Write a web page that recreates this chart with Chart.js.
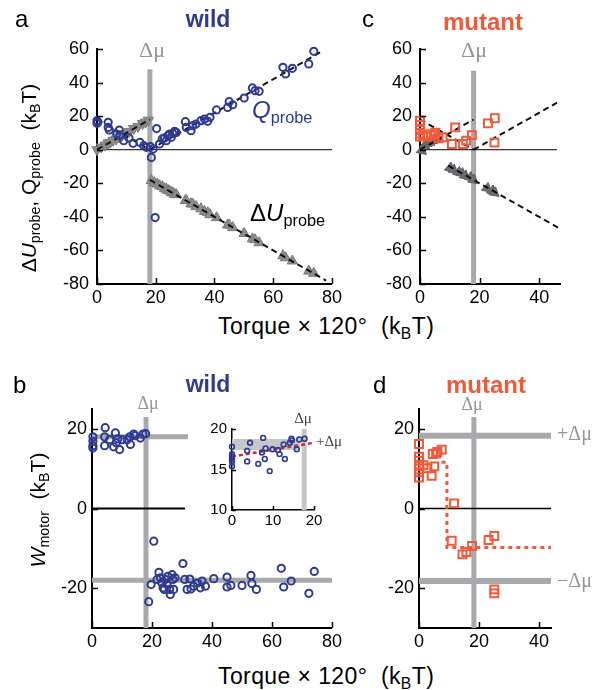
<!DOCTYPE html>
<html>
<head>
<meta charset="utf-8">
<script src="https://cdn.jsdelivr.net/npm/chart.js@4.4.1/dist/chart.umd.min.js"></script>
<style>
  body { margin: 0; background: #fff; width: 606px; height: 690px; position: relative; overflow: hidden;
         font-family: "Liberation Sans", Arial, sans-serif; }
  canvas { position: absolute; }
  .t { position: absolute; white-space: nowrap; line-height: 1; }
  .c { transform: translateX(-50%); }
  .ser { font-family: "Liberation Serif", "DejaVu Serif", serif; }
  .rot { transform: translate(-50%, -50%) rotate(-90deg); }
  sub { font-size: 0.68em; vertical-align: -0.32em; line-height: 0; }
  .blue { color: #2E3A94; }
  .red { color: #F0593A; }
  .gray { color: #939598; }
  .xt { font-size: 23px; letter-spacing: 0.4px; }
</style>
</head>
<body>
<canvas id="chartA" width="345" height="310" style="left:0;top:0"></canvas>
<canvas id="chartC" width="261" height="310" style="left:345px;top:0"></canvas>
<canvas id="chartB" width="345" height="290" style="left:0;top:360px"></canvas>
<canvas id="chartD" width="261" height="290" style="left:345px;top:360px"></canvas>
<canvas id="chartIn" width="140" height="120" style="left:200px;top:410px"></canvas>

<div class="t" style="left:15px;top:7px;font-size:24px">a</div>
<div class="t c blue" style="left:208px;top:8px;font-size:23px;font-weight:bold">wild</div>
<div class="t" style="left:362px;top:7px;font-size:24px">c</div>
<div class="t c red" style="left:483px;top:10px;font-size:24px;font-weight:bold">mutant</div>
<div class="t" style="left:13px;top:373px;font-size:24px">b</div>
<div class="t c blue" style="left:208px;top:373px;font-size:23px;font-weight:bold">wild</div>
<div class="t" style="left:373px;top:373px;font-size:24px">d</div>
<div class="t c red" style="left:486px;top:373px;font-size:24px;font-weight:bold">mutant</div>

<div class="t c ser gray" style="left:152px;top:39px;font-size:22px">Δμ</div>
<div class="t c ser gray" style="left:474px;top:39px;font-size:22px">Δμ</div>
<div class="t c ser gray" style="left:148px;top:394px;font-size:18px">Δμ</div>
<div class="t c ser gray" style="left:472px;top:395px;font-size:18px">Δμ</div>
<div class="t c ser" style="left:303px;top:411px;font-size:15px;color:#444">Δμ</div>
<div class="t ser" style="left:316px;top:434px;font-size:15px;color:#444">+Δμ</div>
<div class="t ser gray" style="left:557px;top:423px;font-size:20px">+Δμ</div>
<div class="t ser gray" style="left:557px;top:570px;font-size:20px">−Δμ</div>

<div class="t blue" style="left:252px;top:98px;font-size:24px"><i>Q</i><sub>probe</sub></div>
<div class="t" style="left:250px;top:201px;font-size:24px">Δ<i>U</i><sub>probe</sub></div>

<div class="t xt" style="left:218px;top:315px">Torque × 120°&nbsp; (k<sub>B</sub>T)</div>
<div class="t xt" style="left:218px;top:665px">Torque × 120°&nbsp; (k<sub>B</sub>T)</div>
<div class="t rot" style="left:28px;top:178px;font-size:21px">Δ<i>U</i><sub>probe</sub>, Q<sub>probe</sub>&nbsp; (k<sub>B</sub>T)</div>
<div class="t rot" style="left:37px;top:510px;font-size:21px"><i>W</i><sub>motor</sub>&nbsp; (k<sub>B</sub>T)</div>

<script>
// Δμ position (kBT)
const DMU = 18;

// ---- panel a (wild): Q_probe circles
const qWildX = [0, 0, 0.3, 3.8, 3.8, 4.2, 6.7, 7.6, 7.8, 9.1, 10.9, 12.3, 14.6, 15.9, 16.8, 18.2, 19.1, 18.5, 20.3, 19.8,
  21.3, 22.2, 23, 23.6, 24.2, 24.7, 25.3, 25.8, 26.4, 27, 30.1, 30.4, 32, 32.6, 33.7, 35.4, 36.6, 37.7, 38.5,
  40.7, 44.5, 45, 46.2, 50.1, 52.9, 53.8, 55.2, 63.3, 64.2, 66.5, 72.1, 73.8];
const qWildY = [17.3, 15.7, 16.5, 16.3, 13.3, 11.8, 9.3, 11.7, 8.4, 5.4, 7, 3.8, 4.4, 2.4, 1.4, 1.8, 0.4, -4.6, 12.6, -40.4,
  3.4, 6.4, 7, 5.4, 8.4, 9.3, 7.4, 9.7, 10.9, 10.3, 16.7, 13.3, 11.3, 14.3, 15.3, 17.3, 18.3, 16.9, 19.3,
  23.7, 25.2, 28.6, 26.8, 30.8, 36.8, 35.2, 34.8, 49.1, 45.1, 48.5, 51.1, 58.6];
// ΔU_probe triangles
const duUpX = [0, 1.5, 2.8, 3.8, 4.5, 5.5, 6.5, 7.5, 8.5, 9.5, 11, 12.5, 14, 15.5, 16.5, 17.5];
const duUpY = [0, 1.6, 2.7, 3.9, 4.4, 5.6, 6.4, 7.6, 8.4, 9.6, 10.9, 12.6, 13.9, 15.6, 16.4, 17.6];
const duLowX = [18.5, 19.5, 20.5, 21.3, 22.2, 23, 23.6, 24.2, 24.7, 25.3, 25.8, 26.4, 27, 30.1, 30.4, 32, 32.6, 33.7,
  35.4, 36.6, 37.7, 38.5, 40.7, 44.5, 45, 46.2, 50.1, 52.9, 53.8, 55.2, 63.3, 64.2, 66.5, 72.1, 73.8];
const duLowY = [-18.3, -19.6, -20.4, -21.5, -22.0, -23.2, -23.5, -24.3, -24.6, -25.5, -25.7, -26.6, -26.8, -30.3, -30.2,
  -32.2, -32.4, -33.9, -35.2, -36.8, -37.5, -38.7, -40.5, -44.8, -44.9, -46.4, -49.9, -53.1, -53.6, -55.4, -63.1,
  -64.4, -66.3, -72.3, -73.6];
// dashed fits, panel a
const fitA = [
  [[0, 18], [18, 0]],
  [[18, 0], [77, 59]],
  [[0, 0], [18, 18]],
  [[18, -18], [78, -78]]
];

// ---- panel c (mutant)
const qMutX = [0, 0, 0, 0, 0, 1.1, 2.5, 3.6, 4.7, 5.1, 6.2, 7.6, 10.7, 11.8, 14.4, 15.5, 17.4, 22.8, 25.1, 25];
const qMutY = [17.3, 14.7, 11.7, 9.7, 7.8, 8.7, 7.8, 9.3, 8.7, 10.1, 6.8, 7.4, 3.4, 13.3, 3.4, 5.4, 8.7, 15.7, 18.7, 4.2];
const duMutX = [0.6, 1.7, 2.5, 3.4, 4.3, 5.1, 5.8, 10.1, 11.2, 12.9, 14, 15.1, 16.8, 17.9, 22.5, 24.2, 25];
const duMutY = [-0.5, 2.8, 4.2, 4.8, 5.8, 6.6, 7.4, -10.9, -12.1, -13.5, -14.1, -15.5, -16.5, -18, -23, -24.5, -25.6];
const fitC = [
  [[0, 18], [18, 0]],
  [[0, 0], [18, 18]],
  [[18, 0], [46, 28]],
  [[9.5, -9.5], [47, -47]]
];

// ---- panel b (wild): W_motor
const wWildLowX = [0.3, 0.3, 0.3, 0.3, 4.4, 4.2, 4.2, 5.9, 7.8, 7.2, 8.1, 8.6, 9.2, 10, 11.7, 12.8, 12.6, 13.9, 14.4, 16.1, 17, 17.9];
const wWildLowY = [18, 16.9, 15.8, 15.2, 20.3, 18, 15.8, 17.3, 19, 15.5, 16.5, 17.5, 14.8, 17.3, 17.3, 16.1, 18, 18.7, 18.3, 17.7, 18.7, 18.8];
const wWildHighX = [20.6, 18.9, 19.7, 22.3, 21.7, 22.8, 23.3, 23.7, 24.1, 24.4, 25, 25.3, 25.9, 26.1, 26.7, 27, 27.2, 27.7,
  30.3, 30.9, 31.7, 32.6, 33, 33.9, 35.2, 36.1, 36.7, 37.8, 40.6, 45, 45, 46.3, 50, 53, 53.3, 54.8, 63.1, 63.9, 66.4, 72.3, 74.1];
const wWildHighY = [-8.2, -23.4, -19.1, -16, -17.8, -17.4, -18.7, -19.9, -20.3, -17.8, -19.1, -17, -20.3, -21.6, -16.6, -17.8,
  -20.3, -17.4, -13.8, -17.8, -20.3, -17.7, -20.2, -19.5, -18.7, -19.9, -18.2, -19.5, -17.6, -17.2, -19.7, -19.3, -19.3,
  -16.8, -18.8, -20.3, -15, -19.7, -18.2, -21.3, -15.8];
// inset of b
const insetX = [0, 0, 0, 0, 0, 0, 4.4, 3.7, 3.7, 6.4, 7.3, 7.6, 8.0, 8.2, 9.2, 9.9, 11.2, 11.6, 12.9, 12.6, 14.1, 14.5, 14.6, 16.4, 17.7, 15.8];
const insetY = [17.8, 16.9, 16.6, 16.3, 16.0, 15.4, 18.3, 17.3, 16.0, 15.7, 17.1, 18.9, 16.3, 17.6, 14.8, 17.5, 17.4, 16.9, 16.3, 18.1, 18.3, 18.8, 18.6, 18.7, 18.8, 17.5];
const insetFit = [[0, 16.6], [20, 18.3]];

// ---- panel d (mutant): W_motor
const wMutX = [0, 0, 0, 0, 0, 0, 1.5, 2.8, 4.2, 4.6, 5.1, 5.7, 6.1, 7.6, 11.7, 10.9, 14.5, 15.8, 17.7, 23.2, 25.1, 25.1, 25.1];
const wMutY = [16.2, 13, 12, 10.6, 9.1, 7.8, 10.9, 10.1, 8.2, 13.7, 10.6, 13.8, 14.2, 14.8, 1.3, -8.1, -11.5, -10.9, -9.4, -7.9, -6.9, -20.3, -21.3];
const wMutFitX = [7.5, 9.3, 9.3, 44];
const wMutFitY = [11.6, 11.6, -9.8, -9.8];

// tick labels
const ticksA_x = [0, 20, 40, 60, 80];
const ticksA_y = [-80, -60, -40, -20, 0, 20, 40, 60];
const ticksC_x = [0, 20, 40];
const ticksB_x = [0, 20, 40, 60, 80];
const ticksB_y = [-20, 0, 20];
const ticksD_x = [0, 20, 40];
const ticksIn_x = [0, 10, 20];
const ticksIn_y = [10, 15, 20];

const BLUE = '#2E3A94', RED = '#F0593A', BAND = '#A7A9AC';

// inward tick marks
const inTicks = {
  id: 'inTicks',
  afterDraw(chart, args, opts) {
    const ctx = chart.ctx, a = chart.chartArea, len = opts.len || 5;
    ctx.save();
    ctx.strokeStyle = '#000';
    ctx.lineWidth = opts.width || 1.5;
    ctx.beginPath();
    chart.scales.x.ticks.forEach(t => {
      const px = Math.round(chart.scales.x.getPixelForValue(t.value)) + 0.5;
      ctx.moveTo(px, a.bottom); ctx.lineTo(px, a.bottom - len);
    });
    chart.scales.y.ticks.forEach(t => {
      const py = Math.round(chart.scales.y.getPixelForValue(t.value)) + 0.5;
      ctx.moveTo(a.left, py); ctx.lineTo(a.left + len, py);
    });
    ctx.stroke();
    ctx.restore();
  }
};

const pts = (xs, ys) => xs.map((x, i) => ({ x: x, y: ys[i] }));
const seg = s => s.map(p => ({ x: p[0], y: p[1] }));

function marks(xs, ys, style) {
  return Object.assign({ data: pts(xs, ys), showLine: false, clip: false, order: 1 }, style);
}
function line(data, color, width, dash, order) {
  return { data: data, showLine: true, pointRadius: 0, borderColor: color, borderWidth: width,
           borderDash: dash || [], fill: false, clip: false, order: order || 2 };
}

function opts(o) {
  const font = { family: '"Liberation Sans", Arial, sans-serif', size: o.fs };
  return {
    responsive: false,
    animation: false,
    events: [],
    layout: { padding: { top: o.top, right: o.right, left: 0, bottom: 0 } },
    plugins: { legend: { display: false }, tooltip: { enabled: false }, inTicks: { len: o.tick } },
    scales: {
      x: {
        type: 'linear', min: o.xmin, max: o.xmax,
        grid: { display: false, drawTicks: false },
        border: { color: '#000', width: o.bw },
        ticks: { color: '#000', font: font, padding: o.xpad, maxRotation: 0 },
        afterBuildTicks: s => { s.ticks = o.xt.map(v => ({ value: v })); },
        afterFit: s => { s.height = o.xh; }
      },
      y: {
        type: 'linear', min: o.ymin, max: o.ymax,
        grid: { display: false, drawTicks: false },
        border: { color: '#000', width: o.bw },
        ticks: { color: '#000', font: font, padding: o.ypad },
        afterBuildTicks: s => { s.ticks = o.yt.map(v => ({ value: v })); },
        afterFit: s => { s.width = o.yw; }
      }
    }
  };
}

const circle = { pointStyle: 'circle', pointRadius: 3.6, borderColor: BLUE, borderWidth: 2, backgroundColor: 'rgba(255,255,255,0)' };
const square = { pointStyle: 'rect', pointRadius: 5.6, borderColor: RED, borderWidth: 2, backgroundColor: 'rgba(255,255,255,0)' };
const triA = r => ({ pointStyle: 'triangle', pointRadius: 6, pointRotation: r, borderColor: '#7A7A7A', borderWidth: 1, backgroundColor: '#8E8E8E' });
const triC = { pointStyle: 'triangle', pointRadius: 6, pointRotation: 250, borderColor: '#5F6063', borderWidth: 1, backgroundColor: '#6D6E71' };
const dash = [6, 4];

// panel a
new Chart(document.getElementById('chartA'), {
  type: 'scatter',
  data: { datasets: [
    marks(qWildX, qWildY, circle),
    marks(duUpX, duUpY, Object.assign({ order: 1.5 }, triA(60))),
    marks(duLowX, duLowY, Object.assign({ order: 1.5 }, triA(120))),
    ...fitA.map(f => line(seg(f), '#111', 2, dash, 1.2)),
    line(seg([[0, 0], [80, 0]]), '#000', 1, null, 3),
    line(seg([[DMU, -80], [DMU, 48]]), BAND, 5, null, 4)
  ] },
  options: opts({ top: 49, right: 12, xh: 26, yw: 97, xmin: 0, xmax: 80, ymin: -80, ymax: 60,
                  xt: ticksA_x, yt: ticksA_y, fs: 18, xpad: 3, ypad: 8, tick: 6, bw: 2 }),
  plugins: [inTicks]
});

// panel c
new Chart(document.getElementById('chartC'), {
  type: 'scatter',
  data: { datasets: [
    marks(qMutX, qMutY, square),
    marks(duMutX, duMutY, Object.assign({ order: 1.5 }, triC)),
    ...fitC.map(f => line(seg(f), '#111', 2, dash, 1.2)),
    line(seg([[0, 0], [46, 0]]), '#000', 1, null, 3),
    line(seg([[DMU, -80], [DMU, 47]]), BAND, 5, null, 4)
  ] },
  options: opts({ top: 49, right: 46, xh: 26, yw: 75, xmin: 0, xmax: 47, ymin: -80, ymax: 60,
                  xt: ticksC_x, yt: ticksA_y, fs: 18, xpad: 3, ypad: 8, tick: 6, bw: 2 }),
  plugins: [inTicks]
});

// panel b
new Chart(document.getElementById('chartB'), {
  type: 'scatter',
  data: { datasets: [
    marks(wWildLowX, wWildLowY, circle),
    marks(wWildHighX, wWildHighY, circle),
    line(seg([[0, 0], [31, 0]]), '#000', 2, null, 3),
    line(seg([[0, DMU], [32, DMU]]), BAND, 5, null, 4),
    line(seg([[0, -DMU], [80, -DMU]]), BAND, 5, null, 4),
    line(seg([[DMU, -30], [DMU, 23]]), BAND, 5, null, 4)
  ] },
  options: opts({ top: 49, right: 13, xh: 22, yw: 92, xmin: 0, xmax: 80, ymin: -30, ymax: 25,
                  xt: ticksB_x, yt: ticksB_y, fs: 18, xpad: 3, ypad: 5, tick: 6, bw: 2 }),
  plugins: [inTicks]
});

// panel d
new Chart(document.getElementById('chartD'), {
  type: 'scatter',
  data: { datasets: [
    marks(wMutX, wMutY, square),
    line(pts(wMutFitX, wMutFitY), RED, 3, [4, 4], 1.2),
    line(seg([[0, 0], [44, 0]]), '#000', 1.5, null, 3),
    line(seg([[0, DMU + 0.3], [44, DMU + 0.3]]), BAND, 6, null, 4),
    line(seg([[0, -DMU - 0.2], [44, -DMU - 0.2]]), BAND, 6, null, 4),
    line(seg([[DMU + 0.3, -30], [DMU + 0.3, 23]]), BAND, 5, null, 4)
  ] },
  options: opts({ top: 49, right: 55, xh: 22, yw: 74, xmin: 0, xmax: 44, ymin: -30, ymax: 25,
                  xt: ticksD_x, yt: ticksB_y, fs: 18, xpad: 3, ypad: 5, tick: 6, bw: 2 }),
  plugins: [inTicks]
});

// inset of b
new Chart(document.getElementById('chartIn'), {
  type: 'scatter',
  data: { datasets: [
    marks(insetX, insetY, { pointStyle: 'circle', pointRadius: 2.4, borderColor: BLUE, borderWidth: 1.6, backgroundColor: 'rgba(255,255,255,0)' }),
    line(seg(insetFit), '#D62A35', 2.5, [4, 3], 1.2),
    line(seg([[0, 18.1], [16.6, 18.1]]), '#C4C6C8', 11, null, 4),
    line(seg([[17.6, 10], [17.6, 20]]), '#C4C6C8', 5, null, 4)
  ] },
  options: opts({ top: 19, right: 26, xh: 20, yw: 32, xmin: 0, xmax: 20, ymin: 10, ymax: 20,
                  xt: ticksIn_x, yt: ticksIn_y, fs: 15, xpad: 2, ypad: 5, tick: 4, bw: 1.5 }),
  plugins: [inTicks]
});
</script>
</body>
</html>
